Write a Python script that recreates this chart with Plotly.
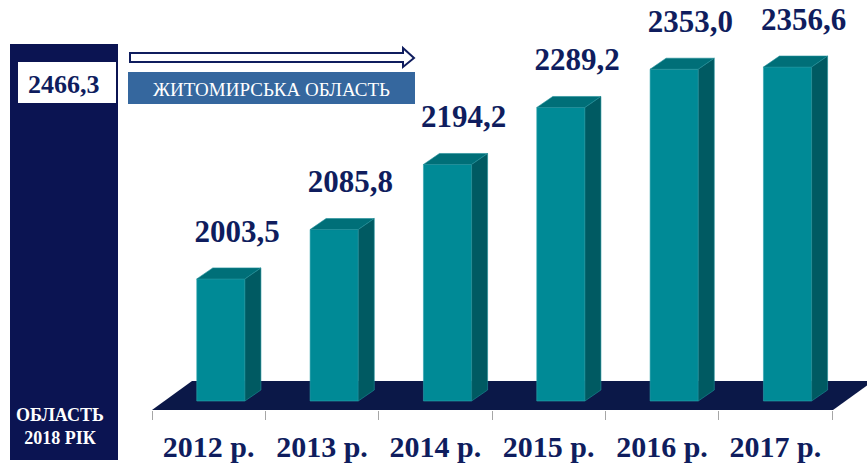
import plotly.graph_objects as go

# ---- data ----
years = ["2012 р.", "2013 р.", "2014 р.", "2015 р.", "2016 р.", "2017 р."]
values = [2003.5, 2085.8, 2194.2, 2289.2, 2353.0, 2356.6]
value_labels = ["2003,5", "2085,8", "2194,2", "2289,2", "2353,0", "2356,6"]
region_title = "ЖИТОМИРСЬКА ОБЛАСТЬ"
region_value_label = "2466,3"
region_caption = "ОБЛАСТЬ<br>2018 РІК"

# ---- style / layout constants ----
W, H = 867, 465
NAVY = "#0f1d5e"
PANEL = "#0b1452"
FLOOR = "#0b1848"
FRONT = "#008a96"
TOP = "#006f78"
SIDE = "#005a62"
SERIF = "Liberation Serif, Times New Roman, serif"

BASE = 1800.0
Y_RANGE = [1785.0, 1800.0 + 401 / 0.6]
X_RANGE = [-0.5 - 32 / 113.33, 5.5 + 35 / 113.33]
BAR_W = 0.425
BAR_OFF = -0.105
DX = 16 / 113.33
DY = 11 / 0.6


def px(x):
    return x / W


def py(y):
    return 1 - y / H


xs = list(range(len(values)))

fig = go.Figure()

fig.add_trace(go.Bar(
    x=xs, y=[v - BASE for v in values], base=BASE,
    width=BAR_W, offset=BAR_OFF,
    marker=dict(color=FRONT, line=dict(width=0.6, color="#2fa3ad")),
    hoverinfo="skip", showlegend=False,
))

fig.add_trace(go.Scatter(
    x=[i + 0.25 for i in xs], y=[v + 75 for v in values],
    mode="text", text=value_labels, cliponaxis=False,
    textfont=dict(family=SERIF, size=31, color=NAVY, weight="bold"),
    hoverinfo="skip", showlegend=False,
))

shapes = []
# floor
fx0, fx1 = -0.5, 5.509
fyf, fyb = 1785.0, 1833.3
shapes.append(dict(
    type="path", xref="x", yref="y", layer="below",
    path=f"M {fx0},{fyf} L {fx1},{fyf} L {fx1 + 0.353},{fyb} L {fx0 + 0.353},{fyb} Z",
    fillcolor=FLOOR, line=dict(width=0),
))
# 3D faces of the bars
for i, v in zip(xs, values):
    xl = i + BAR_OFF
    xr = xl + BAR_W
    shapes.append(dict(
        type="path", xref="x", yref="y", layer="above",
        path=f"M {xl},{v} L {xr},{v} L {xr + DX},{v + DY} L {xl + DX},{v + DY} Z",
        fillcolor=TOP, line=dict(width=0.6, color="#1f8f98"),
    ))
    shapes.append(dict(
        type="path", xref="x", yref="y", layer="above",
        path=f"M {xr},{BASE} L {xr},{v} L {xr + DX},{v + DY} L {xr + DX},{BASE + DY} Z",
        fillcolor=SIDE, line=dict(width=0.6, color="#1f8f98"),
    ))

# left panel
shapes.append(dict(type="rect", xref="paper", yref="paper",
                   x0=px(10), x1=px(118), y0=py(460), y1=py(44),
                   fillcolor=PANEL, line=dict(width=0)))
shapes.append(dict(type="rect", xref="paper", yref="paper",
                   x0=px(18), x1=px(116), y0=py(103), y1=py(62),
                   fillcolor="white", line=dict(width=0)))
# arrow outline
arrow = [(130, 53), (403, 53), (403, 48), (414, 58), (403, 67), (403, 62), (130, 62)]
apath = "M " + " L ".join(f"{px(a)},{py(b)}" for a, b in arrow) + " Z"
shapes.append(dict(type="path", xref="paper", yref="paper", path=apath,
                   fillcolor="white", line=dict(width=2, color=NAVY)))
# title box
shapes.append(dict(type="rect", xref="paper", yref="paper",
                   x0=px(128), x1=px(415), y0=py(104), y1=py(72),
                   fillcolor="#35679e", line=dict(width=0)))

annotations = [
    dict(xref="paper", yref="paper", x=px(271), y=py(89), text=region_title,
         showarrow=False, font=dict(family=SERIF, size=19, color="white"),
         xanchor="center", yanchor="middle"),
    dict(xref="paper", yref="paper", x=px(64), y=py(84), text=region_value_label,
         showarrow=False, font=dict(family=SERIF, size=26, color=NAVY, weight="bold"),
         xanchor="center", yanchor="middle"),
    dict(xref="paper", yref="paper", x=px(60), y=py(426), text=region_caption,
         showarrow=False, font=dict(family=SERIF, size=18, color="white", weight="bold"),
         xanchor="center", yanchor="middle"),
]

fig.update_layout(
    width=W, height=H,
    margin=dict(l=0, r=0, t=0, b=0),
    paper_bgcolor="white", plot_bgcolor="rgba(0,0,0,0)",
    shapes=shapes, annotations=annotations,
    xaxis=dict(
        domain=[120 / W, 1], range=X_RANGE, automargin=False,
        tickmode="array", tickvals=xs, ticktext=[f"<b>{t}</b>" for t in years],
        ticks="", showgrid=False, zeroline=False, showline=False,
        ticklabelstandoff=16,
        tickfont=dict(family=SERIF, size=30, color=NAVY),
        minor=dict(ticks="outside", tickmode="linear", tick0=-0.5, dtick=1,
                   ticklen=9, tickcolor="#a6a6a6", tickwidth=1, showgrid=False),
    ),
    yaxis=dict(
        domain=[55 / H, 1], range=Y_RANGE, visible=False, automargin=False,
        showgrid=False, zeroline=False,
    ),
    bargap=0,
)

fig.write_html("out.html", config={"displayModeBar": False, "staticPlot": True})

# remove the default page margin so the figure sits at the window origin
with open("out.html", encoding="utf-8") as f:
    html = f.read()
html = html.replace("<body>", '<body style="margin:0;padding:0;">', 1)
with open("out.html", "w", encoding="utf-8") as f:
    f.write(html)
